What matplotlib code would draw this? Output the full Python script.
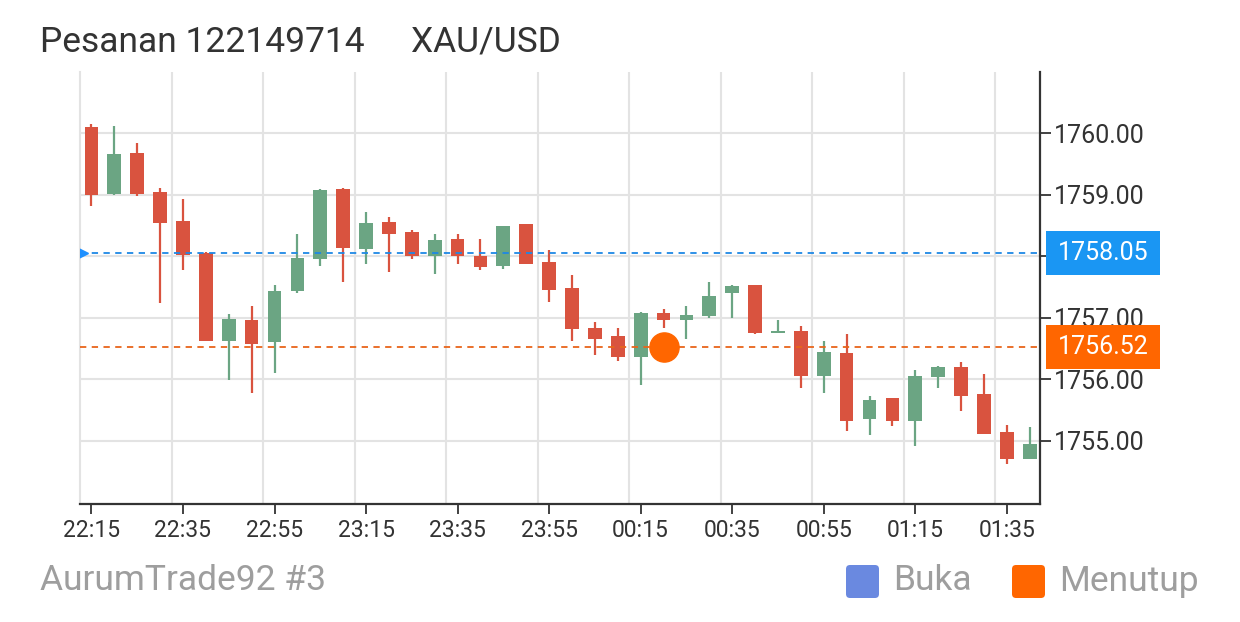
import matplotlib
matplotlib.use('Agg')
import matplotlib.pyplot as plt
import matplotlib.transforms as mtrans
from matplotlib.patches import Rectangle, FancyBboxPatch
import numpy as np

plt.rcParams['font.family'] = ['Roboto', 'DejaVu Sans']

# 5-minute candles, 22:15 -> 01:40
times = ['22:15', '22:20', '22:25', '22:30', '22:35', '22:40', '22:45', '22:50',
         '22:55', '23:00', '23:05', '23:10', '23:15', '23:20', '23:25', '23:30',
         '23:35', '23:40', '23:45', '23:50', '23:55', '00:00', '00:05', '00:10',
         '00:15', '00:20', '00:25', '00:30', '00:35', '00:40', '00:45', '00:50',
         '00:55', '01:00', '01:05', '01:10', '01:15', '01:20', '01:25', '01:30',
         '01:35', '01:40']
opens = [1760.10, 1759.01, 1759.69, 1759.04, 1758.57, 1758.06, 1756.62, 1756.96,
         1756.61, 1757.44, 1757.95, 1759.10, 1758.12, 1758.56, 1758.39, 1758.01,
         1758.28, 1758.01, 1757.85, 1758.52, 1757.91, 1757.48, 1756.84, 1756.70,
         1756.37, 1757.08, 1756.96, 1757.03, 1757.40, 1757.53, 1756.75, 1756.79,
         1756.06, 1756.43, 1755.35, 1755.69, 1755.32, 1756.04, 1756.20, 1755.76,
         1755.14, 1754.70]
highs = [1760.15, 1760.12, 1759.85, 1759.12, 1758.93, 1758.07, 1757.07, 1757.20,
         1757.53, 1758.36, 1759.09, 1759.11, 1758.72, 1758.64, 1758.43, 1758.37,
         1758.37, 1758.28, 1758.50, 1758.52, 1758.10, 1757.70, 1756.93, 1756.84,
         1757.09, 1757.15, 1757.20, 1757.59, 1757.54, 1757.54, 1756.96, 1756.87,
         1756.63, 1756.73, 1755.73, 1755.69, 1756.15, 1756.22, 1756.28, 1756.09,
         1755.26, 1755.23]
lows = [1758.82, 1759.00, 1758.98, 1757.24, 1757.77, 1756.62, 1755.99, 1755.77,
        1756.10, 1757.41, 1757.85, 1757.59, 1757.87, 1757.74, 1757.96, 1757.71,
        1757.88, 1757.77, 1757.80, 1757.87, 1757.25, 1756.62, 1756.40, 1756.29,
        1755.91, 1756.83, 1756.66, 1757.00, 1757.00, 1756.74, 1756.75, 1755.86,
        1755.78, 1755.15, 1755.09, 1755.24, 1754.92, 1755.85, 1755.49, 1755.11,
        1754.62, 1754.70]
closes = [1759.00, 1759.67, 1759.01, 1758.55, 1758.02, 1756.62, 1756.98, 1756.57,
          1757.44, 1757.98, 1759.08, 1758.13, 1758.54, 1758.36, 1758.01, 1758.26,
          1758.01, 1757.83, 1758.49, 1757.88, 1757.45, 1756.81, 1756.65, 1756.37,
          1757.08, 1756.96, 1757.04, 1757.36, 1757.52, 1756.75, 1756.79, 1756.06,
          1756.45, 1755.32, 1755.67, 1755.32, 1756.06, 1756.20, 1755.73, 1755.11,
          1754.70, 1754.94]

open_price = 1758.05
close_price = 1756.52
close_idx = 25
yticks = [1755, 1756, 1757, 1758, 1759, 1760]

up_col = '#6ba583'
down_col = '#d9533f'
grid_col = '#e3e3e3'
dark = '#333333'

fig = plt.figure(figsize=(12.4, 6.22), dpi=100)
ax = fig.add_axes([80 / 1240, 118 / 622, 960 / 1240, 432 / 622])

x = np.arange(len(times))
o = np.array(opens); c = np.array(closes)
cols = [up_col if cc >= oo else down_col for oo, cc in zip(o, c)]
ax.vlines(x, lows, highs, colors=cols, linewidth=1.6, zorder=3)
ax.bar(x, np.maximum(np.abs(c - o), 0.03), bottom=np.minimum(o, c), width=0.6,
       color=cols, zorder=3)

ax.set_xlim(-0.5, 41.45)
ax.set_ylim(1753.97, 1761.0)

# grid
for gx in np.arange(3.5, 41, 4):
    ax.axvline(gx, color=grid_col, lw=1.5, zorder=0)
for gy in yticks:
    ax.axhline(gy, color=grid_col, lw=1.5, zorder=0)

ax.set_xticks(x[::4])
ax.set_xticklabels(times[::4])
ax.set_yticks(yticks)
# 1758.00 sits under the open-price box
ax.set_yticklabels(['' if v == 1758 else '%.2f' % v for v in yticks])
ax.yaxis.tick_right()
ax.tick_params(axis='x', length=7, width=1.3, color=dark, labelsize=16.5,
               labelcolor=dark, pad=4)
ax.tick_params(axis='y', length=8, width=1.3, color=dark, labelsize=18,
               labelcolor=dark, pad=2)
ax.spines['top'].set_visible(False)
ax.spines['left'].set_color(grid_col)
ax.spines['left'].set_linewidth(1.5)
ax.spines['bottom'].set_color(dark)
ax.spines['bottom'].set_linewidth(1.6)
ax.spines['right'].set_color(dark)
ax.spines['right'].set_linewidth(1.6)

# open / close lines
ax.axhline(open_price, color='#1e88e5', lw=1.3, ls=(0, (3.5, 3)), zorder=4)
ax.axhline(close_price, color='#e8651a', lw=1.3, ls=(0, (3.5, 3)), zorder=4)
ax.plot(-0.5, open_price, marker='>', ms=12, color='#1e90ff', zorder=6,
        clip_on=True)
ax.plot(close_idx, close_price, marker='o', ms=21, color='#ff6600', zorder=6)

# price boxes on right axis
bt = mtrans.blended_transform_factory(ax.transAxes, ax.transData)
hh = 44 / 61.5
for val, fc in [(open_price, '#1a96f3'), (close_price, '#ff6600')]:
    ax.add_patch(Rectangle((1.00625, val - hh / 2), 0.11875, hh, transform=bt,
                           facecolor=fc, edgecolor='none', clip_on=False, zorder=10))
    ax.text(1.0655, val, '%.2f' % val, transform=bt, ha='center', va='center',
            color='white', fontsize=18, zorder=11, clip_on=False)

# title
fig.text(40 / 1240, 1 - 42 / 622, 'Pesanan 122149714', fontsize=25.5,
         color=dark, va='center', ha='left')
fig.text(411 / 1240, 1 - 42 / 622, 'XAU/USD', fontsize=25.5,
         color=dark, va='center', ha='left')

# footer
fig.text(40 / 1240, 1 - 581 / 622, 'AurumTrade92 #3', fontsize=25.5,
         color='#9e9e9e', va='center', ha='left')
for x0, fc, lab in [(846, '#6a89e0', 'Buka'), (1012, '#ff6600', 'Menutup')]:
    fig.add_artist(FancyBboxPatch((x0, 622 - 598), 33, 33,
                                  boxstyle='round,pad=0,rounding_size=4',
                                  transform=None, facecolor=fc, edgecolor='none'))
    fig.text((x0 + 47) / 1240, 1 - 581 / 622, lab, fontsize=25.5,
             color='#9e9e9e', va='center', ha='left')

fig.savefig('out.png', dpi=100)
